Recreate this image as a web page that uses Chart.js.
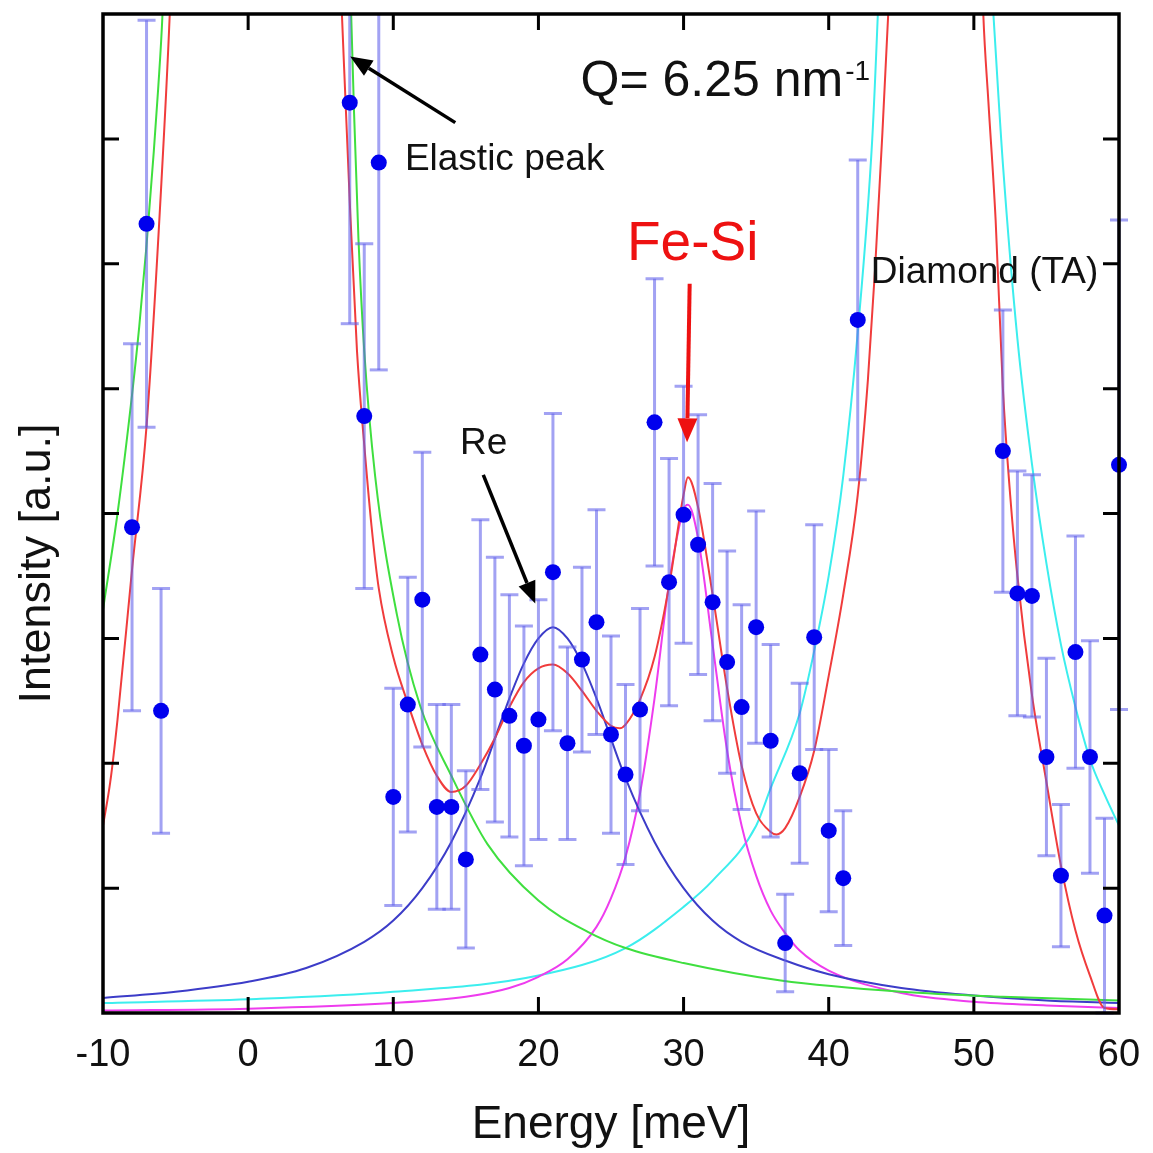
<!DOCTYPE html>
<html>
<head>
<meta charset="utf-8">
<title>IXS spectrum, Q = 6.25 nm-1</title>
<script src="https://cdn.jsdelivr.net/npm/chart.js@4.4.1/dist/chart.umd.min.js"></script>
<style>
  html, body { margin: 0; padding: 0; background: #ffffff; }
  #chart { display: block; }
</style>
</head>
<body>
<canvas id="chart" width="1153" height="1153"></canvas>
<script>
const FONT = "'Liberation Sans', Arial, Helvetica, sans-serif";

// axis ticks
const xTickValues = [-10, 0, 10, 20, 30, 40, 50, 60];
const yTickValues = [0, 1, 2, 3, 4, 5, 6, 7, 8];

// measured spectrum (energy in meV, intensity in a.u.)
const energy = [-8, -7, -6, 7, 8, 9, 10, 11, 12, 13, 14, 15, 16, 17, 18, 19, 20, 21, 22, 23, 24, 25,
  26, 27, 28, 29, 30, 31, 32, 33, 34, 35, 36, 37, 38, 39, 40, 41, 42, 52, 53, 54, 55, 56, 57, 58, 59, 60];
const intensity = [3.89, 6.32, 2.42, 7.29, 4.78, 6.81, 1.73, 2.47, 3.31, 1.65, 1.65, 1.23, 2.87, 2.59,
  2.38, 2.14, 2.35, 3.53, 2.16, 2.83, 3.13, 2.23, 1.91, 2.43, 4.73, 3.45, 3.99, 3.75, 3.29, 2.81, 2.45,
  3.09, 2.18, 0.56, 1.92, 3.01, 1.46, 1.08, 5.55, 4.50, 3.36, 3.34, 2.05, 1.10, 2.89, 2.05, 0.78, 4.39];
const errors = [1.47, 1.63, 0.98, 1.77, 1.38, 1.66, 0.87, 1.02, 1.18, 0.82, 0.82, 0.71, 1.08, 1.06,
  0.97, 0.96, 0.96, 1.27, 0.77, 0.74, 0.90, 0.79, 0.72, 0.81, 1.15, 0.99, 1.03, 1.04, 0.95, 0.89, 0.82,
  0.93, 0.77, 0.39, 0.72, 0.90, 0.65, 0.54, 1.28, 1.13, 0.98, 0.97, 0.79, 0.57, 0.93, 0.93, 0.78, 1.96];

// total fit (red)
const totalX = [-10, -9.5, -9, -8, -7, -6, -5.4, -5, -4, 0.5, 5, 6, 6.46, 7, 7.5, 8, 8.5, 9, 10, 11, 12,
  13, 14, 15, 16, 17, 18, 19, 20, 21, 22, 23, 24, 25, 25.6, 26, 27, 28, 29, 30, 30.3, 31, 32, 33, 34,
  35, 36, 36.4, 37, 38, 39, 40, 41, 42, 42.7, 43.2, 43.7, 44.1, 45, 47.4, 50, 50.65, 51, 51.5, 52,
  52.5, 53, 54, 55, 56, 57, 58, 59, 60];
const totalY = [1.5, 1.85, 2.35, 3.55, 4.7, 6.6, 8.0, 9.3, 12.5, 30, 12.5, 9.3, 8.0, 6.5, 5.3, 4.55,
  3.9, 3.4, 2.85, 2.48, 2.15, 1.9, 1.77, 1.82, 1.99, 2.2, 2.45, 2.65, 2.76, 2.79, 2.72, 2.58, 2.42,
  2.3, 2.28, 2.31, 2.51, 2.85, 3.42, 4.15, 4.29, 4.05, 3.35, 2.6, 1.98, 1.6, 1.45, 1.43, 1.48, 1.73,
  2.1, 2.7, 3.35, 4.15, 5.07, 5.97, 7.05, 8.0, 10.5, 13, 10.5, 8.0, 7.3, 6.35, 5.0, 4.15, 3.5, 2.55,
  1.85, 1.18, 0.66, 0.3, 0.04, 0.03];

// elastic peak (green)
const elasticX = [-10, -9, -8, -7.5, -7, -6.5, -6.2, -5.9, -5, -4, 0.5, 5, 6.6, 7.0, 7.3, 7.6, 8.0,
  8.75, 10.25, 11.85, 14, 16.5, 20, 23.4, 26, 30, 36.7, 45, 52, 60];
const elasticY = [3.23, 4.0, 4.95, 5.5, 6.15, 6.9, 7.4, 8.0, 11, 15, 40, 15, 10, 8.4, 7.2, 6.2, 5.3,
  4.3, 3.19, 2.46, 1.9, 1.35, 0.9, 0.65, 0.52, 0.4, 0.26, 0.17, 0.13, 0.1];

// Re phonon (blue)
const reX = [-10, -5, 0, 4, 8, 10, 12, 14, 16, 18, 19, 20, 21, 22, 23, 24, 26, 28, 30, 32, 34, 37, 40,
  45, 50, 55, 60];
const reY = [0.12, 0.17, 0.25, 0.36, 0.57, 0.74, 1.0, 1.37, 1.88, 2.52, 2.8, 3.0, 3.09, 3.0, 2.8, 2.52,
  1.88, 1.37, 1.0, 0.74, 0.57, 0.42, 0.31, 0.2, 0.14, 0.1, 0.08];

// Fe-Si phonon (magenta)
const fesiX = [-10, 0, 10, 15, 18, 20, 22, 24, 25, 26, 27, 28, 29, 30, 30.3, 31, 32, 33, 34, 35, 36,
  37, 38, 40, 45, 50, 55, 60];
const fesiY = [0.02, 0.035, 0.08, 0.13, 0.2, 0.29, 0.43, 0.69, 0.92, 1.25, 1.76, 2.52, 3.44, 4.03,
  4.07, 3.8, 2.95, 2.1, 1.5, 1.1, 0.82, 0.64, 0.5, 0.34, 0.16, 0.09, 0.06, 0.04];

// diamond TA (cyan)
const diamondX = [-10, 0, 10, 20, 26, 30, 32, 35, 36, 38, 39, 40, 41, 42, 43, 44, 47.5, 51, 52, 53,
  54, 55, 56, 57, 58, 59, 60];
const diamondY = [0.08, 0.11, 0.17, 0.3, 0.52, 0.85, 1.06, 1.5, 1.8, 2.4, 2.9, 3.5, 4.3, 5.45, 7.0,
  9.6, 13, 8.6, 6.8, 5.4, 4.4, 3.6, 2.95, 2.45, 2.03, 1.75, 1.5];

const ERROR_COLOR = "rgba(95, 95, 235, 0.58)";

function pairs(xs, ys) {
  return xs.map((x, i) => ({ x, y: ys[i] }));
}

function curve(label, xs, ys, color) {
  return {
    label,
    data: pairs(xs, ys),
    showLine: true,
    borderColor: color,
    borderWidth: 2,
    pointRadius: 0,
    cubicInterpolationMode: "monotone",
    order: 1
  };
}

function toPixel(chart, x, y) {
  return { x: chart.scales.x.getPixelForValue(x), y: chart.scales.y.getPixelForValue(y) };
}

function drawArrow(ctx, from, to, color, width, headLength, headWidth) {
  const angle = Math.atan2(to.y - from.y, to.x - from.x);
  const baseX = to.x - headLength * Math.cos(angle);
  const baseY = to.y - headLength * Math.sin(angle);
  const nx = Math.sin(angle) * headWidth / 2;
  const ny = Math.cos(angle) * headWidth / 2;
  ctx.strokeStyle = color;
  ctx.lineWidth = width;
  ctx.beginPath();
  ctx.moveTo(from.x, from.y);
  ctx.lineTo(baseX, baseY);
  ctx.stroke();
  ctx.fillStyle = color;
  ctx.beginPath();
  ctx.moveTo(to.x, to.y);
  ctx.lineTo(baseX + nx, baseY - ny);
  ctx.lineTo(baseX - nx, baseY + ny);
  ctx.closePath();
  ctx.fill();
}

const errorBarPlugin = {
  id: "errorBars",
  beforeDatasetDraw(chart, args) {
    if (args.index !== 0) {
      return;
    }
    const { ctx, scales: { x, y } } = chart;
    ctx.save();
    ctx.strokeStyle = ERROR_COLOR;
    ctx.lineWidth = 3;
    energy.forEach((e, i) => {
      const px = x.getPixelForValue(e);
      const hi = intensity[i] + errors[i];
      const lo = intensity[i] - errors[i];
      const top = y.getPixelForValue(Math.min(hi, y.max));
      const bottom = y.getPixelForValue(Math.max(lo, y.min));
      ctx.beginPath();
      ctx.moveTo(px, top);
      ctx.lineTo(px, bottom);
      ctx.stroke();
      ctx.beginPath();
      if (hi <= y.max) {
        ctx.moveTo(px - 9, top);
        ctx.lineTo(px + 9, top);
      }
      if (lo >= y.min) {
        ctx.moveTo(px - 9, bottom);
        ctx.lineTo(px + 9, bottom);
      }
      ctx.stroke();
    });
    ctx.restore();
  }
};

const framePlugin = {
  id: "frame",
  afterDraw(chart) {
    const { ctx, chartArea: area, scales: { x, y } } = chart;
    ctx.save();
    ctx.strokeStyle = "#000";
    ctx.lineWidth = 3;
    xTickValues.slice(1, -1).forEach((v) => {
      const px = x.getPixelForValue(v);
      ctx.beginPath();
      ctx.moveTo(px, area.bottom);
      ctx.lineTo(px, area.bottom - 16);
      ctx.moveTo(px, area.top);
      ctx.lineTo(px, area.top + 16);
      ctx.stroke();
    });
    yTickValues.slice(1, -1).forEach((v) => {
      const py = y.getPixelForValue(v);
      ctx.beginPath();
      ctx.moveTo(area.left, py);
      ctx.lineTo(area.left + 16, py);
      ctx.moveTo(area.right, py);
      ctx.lineTo(area.right - 16, py);
      ctx.stroke();
    });
    ctx.lineWidth = 3.5;
    ctx.strokeRect(area.left, area.top, area.right - area.left, area.bottom - area.top);

    // y axis title, drawn by hand so it can sit slightly below centre like the original
    ctx.fillStyle = "#111";
    ctx.font = `45px ${FONT}`;
    ctx.textAlign = "center";
    ctx.textBaseline = "middle";
    ctx.translate(area.left - 65, y.getPixelForValue(3.6));
    ctx.rotate(-Math.PI / 2);
    ctx.fillText("Intensity [a.u.]", 0, 0);
    ctx.restore();
  }
};

const notes = [
  { text: "Elastic peak", x: 10.8, y: 6.83, size: 37, color: "#111" },
  { text: "Fe-Si", x: 26.1, y: 6.15, size: 55, color: "#ee1111" },
  { text: "Diamond (TA)", x: 42.9, y: 5.93, size: 37, color: "#111" },
  { text: "Re", x: 14.6, y: 4.56, size: 37, color: "#111" }
];

const arrows = [
  { from: [14.27, 7.13], to: [7.03, 7.66], color: "#000", width: 3.5, head: 22, spread: 18 },
  { from: [16.2, 4.31], to: [19.78, 3.28], color: "#000", width: 3.5, head: 22, spread: 18 },
  { from: [30.42, 5.84], to: [30.24, 4.57], color: "#ee1111", width: 4, head: 24, spread: 20 }
];

const annotationPlugin = {
  id: "annotations",
  afterDatasetsDraw(chart) {
    const { ctx } = chart;
    ctx.save();
    arrows.forEach((a) => {
      drawArrow(ctx, toPixel(chart, a.from[0], a.from[1]), toPixel(chart, a.to[0], a.to[1]),
        a.color, a.width, a.head, a.spread);
    });
    ctx.textAlign = "left";
    ctx.textBaseline = "middle";
    notes.forEach((n) => {
      const p = toPixel(chart, n.x, n.y);
      ctx.fillStyle = n.color;
      ctx.font = `${n.size}px ${FONT}`;
      ctx.fillText(n.text, p.x, p.y);
    });

    const q = toPixel(chart, 22.9, 7.34);
    ctx.fillStyle = "#111";
    ctx.textBaseline = "alphabetic";
    ctx.font = `50px ${FONT}`;
    const main = "Q= 6.25 nm";
    ctx.fillText(main, q.x, q.y);
    const w = ctx.measureText(main).width;
    ctx.font = `28px ${FONT}`;
    ctx.fillText("-1", q.x + w + 2, q.y - 16);
    ctx.restore();
  }
};

const datasets = [
  {
    label: "Data",
    data: pairs(energy, intensity),
    showLine: false,
    pointRadius: 8,
    pointBackgroundColor: "#0000ee",
    pointBorderWidth: 0,
    clip: false,
    order: 0
  },
  curve("Total fit", totalX, totalY, "#f03c3c"),
  curve("Elastic peak", elasticX, elasticY, "#3fdf3f"),
  curve("Re", reX, reY, "#3c3cc8"),
  curve("Fe-Si", fesiX, fesiY, "#ee3cee"),
  curve("Diamond (TA)", diamondX, diamondY, "#3ceeee")
];

new Chart(document.getElementById("chart"), {
  type: "scatter",
  data: { datasets },
  options: {
    responsive: false,
    animation: false,
    devicePixelRatio: 1,
    layout: { padding: { top: 14, right: 34, bottom: 0, left: 0 } },
    plugins: {
      legend: { display: false },
      tooltip: { enabled: false }
    },
    scales: {
      x: {
        type: "linear",
        min: -10,
        max: 60,
        afterBuildTicks: (scale) => {
          scale.ticks = xTickValues.map((value) => ({ value }));
        },
        afterFit: (scale) => {
          scale.height = 140;
          scale.paddingLeft = 0;
          scale.paddingRight = 0;
        },
        ticks: {
          color: "#111",
          padding: 20,
          font: { family: FONT, size: 38 }
        },
        grid: { display: false, drawTicks: false },
        border: { display: false },
        title: {
          display: true,
          text: "Energy [meV]",
          color: "#111",
          padding: 0,
          font: { family: FONT, size: 46 }
        }
      },
      y: {
        type: "linear",
        min: 0,
        max: 8,
        afterBuildTicks: (scale) => {
          scale.ticks = yTickValues.map((value) => ({ value }));
        },
        afterFit: (scale) => {
          scale.width = 103;
          scale.paddingTop = 0;
          scale.paddingBottom = 0;
        },
        ticks: { display: false },
        grid: { display: false, drawTicks: false },
        border: { display: false }
      }
    }
  },
  plugins: [errorBarPlugin, annotationPlugin, framePlugin]
});
</script>
</body>
</html>
